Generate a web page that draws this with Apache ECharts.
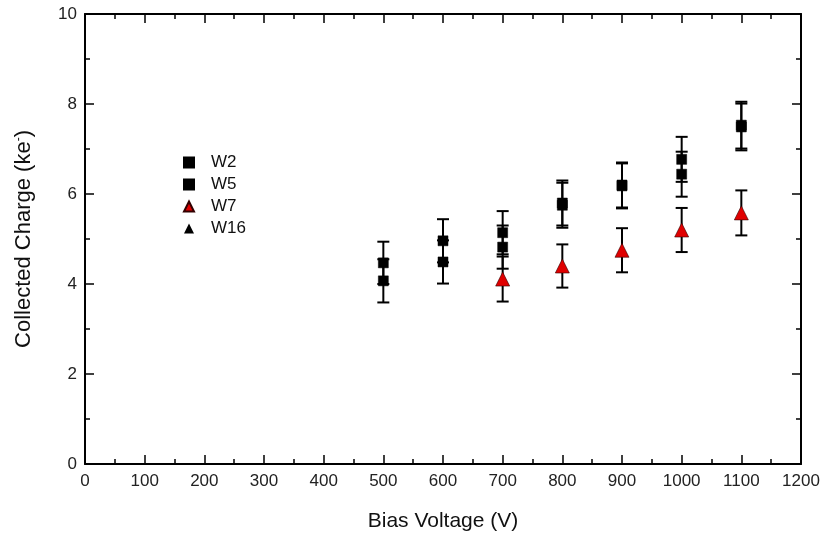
<!DOCTYPE html>
<html><head><meta charset="utf-8">
<script src="https://cdn.jsdelivr.net/npm/echarts@6/dist/echarts.min.js"></script>
<style>html,body{margin:0;padding:0;background:#fff}#c{width:827px;height:546px}</style>
</head><body><div id="c"></div>
<script>
// Data
const voltages = [500, 600, 700, 800, 900, 1000, 1100];
const w2Values = [4.47, 4.96, 5.14, 5.80, 6.20, 6.77, 7.53];
const w2Errors = [0.47, 0.48, 0.48, 0.50, 0.50, 0.50, 0.52];
const w5Values = [4.07, 4.49, 4.82, 5.75, 6.18, 6.44, 7.49];
const w5Errors = [0.48, 0.48, 0.48, 0.50, 0.50, 0.50, 0.52];
const w7Voltages = [700, 800, 900, 1000, 1100];
const w7Values = [4.11, 4.40, 4.75, 5.20, 5.58];
const w7Errors = [0.50, 0.48, 0.49, 0.49, 0.50];
const w16Values = [];
const seriesNames = ['W2', 'W5', 'W7', 'W16'];

const FONT = 'Liberation Sans, Arial, sans-serif';
const chart = echarts.init(document.getElementById('c'));

function pts(xs, ys) { return xs.map((x, i) => [x, ys[i]]); }
function errs(xs, ys, es) { return xs.map((x, i) => [x, ys[i] - es[i], ys[i] + es[i]]); }

function errorBarSeries(data) {
  return {
    type: 'custom', z: 1, silent: true,
    renderItem: function (params, api) {
      const x = api.value(0);
      const lo = api.coord([x, api.value(1)]);
      const hi = api.coord([x, api.value(2)]);
      const hw = 6;
      const st = { stroke: '#000', lineWidth: 2 };
      return { type: 'group', children: [
        { type: 'line', shape: { x1: lo[0], y1: lo[1], x2: hi[0], y2: hi[1] }, style: st },
        { type: 'line', shape: { x1: lo[0] - hw, y1: lo[1], x2: lo[0] + hw, y2: lo[1] }, style: st },
        { type: 'line', shape: { x1: hi[0] - hw, y1: hi[1], x2: hi[0] + hw, y2: hi[1] }, style: st }
      ]};
    },
    encode: { x: 0, y: [1, 2] },
    data: data
  };
}

const axisCommon = {
  axisLine: { show: true, onZero: false, lineStyle: { color: '#000', width: 2 } },
  splitLine: { show: false }
};
const tickStyle = {
  axisTick: { inside: true, length: 9, lineStyle: { color: '#000', width: 1.5 } },
  minorTick: { show: true, splitNumber: 2, length: 5, lineStyle: { color: '#000', width: 1.5 } }
};

chart.setOption({
  animation: false,
  backgroundColor: '#fff',
  grid: { left: 85, right: 26, top: 14, bottom: 82 },
  legend: {
    orient: 'vertical', left: 178, top: 149,
    itemWidth: 10, itemHeight: 10, itemGap: 5,
    data: seriesNames,
    textStyle: { fontFamily: FONT, fontSize: 17, color: '#111', lineHeight: 17, padding: [0, 0, 0, 12] }
  },
  xAxis: [
    Object.assign({
      type: 'value', min: 0, max: 1200, interval: 100, position: 'bottom',
      name: 'Bias Voltage (V)', nameLocation: 'middle', nameGap: 47,
      nameTextStyle: { fontFamily: FONT, fontSize: 21, color: '#111' },
      axisLabel: { fontFamily: FONT, fontSize: 17, color: '#222', margin: 9, formatter: v => String(v) }
    }, axisCommon, tickStyle),
    Object.assign({
      type: 'value', min: 0, max: 1200, interval: 100, position: 'top',
      axisLabel: { show: false }
    }, axisCommon, tickStyle)
  ],
  yAxis: [
    Object.assign({
      type: 'value', min: 0, max: 10, interval: 2, position: 'left',
      name: '{a|Collected Charge (ke}{s|-}{a|)}', nameLocation: 'middle', nameGap: 50,
      nameTextStyle: { rich: {
        a: { fontFamily: FONT, fontSize: 22, color: '#111' },
        s: { fontFamily: FONT, fontSize: 12, color: '#111', verticalAlign: 'top', padding: [0, 0, 10, 0] }
      } },
      axisLabel: { fontFamily: FONT, fontSize: 17, color: '#222', margin: 8, formatter: v => String(v) }
    }, axisCommon, tickStyle),
    Object.assign({
      type: 'value', min: 0, max: 10, interval: 2, position: 'right',
      axisLabel: { show: false }
    }, axisCommon, tickStyle)
  ],
  series: [
    errorBarSeries(errs(voltages, w2Values, w2Errors)),
    errorBarSeries(errs(voltages, w5Values, w5Errors)),
    errorBarSeries(errs(w7Voltages, w7Values, w7Errors)),
    { name: 'W2', type: 'scatter', z: 3, symbol: 'rect', symbolSize: 10,
      itemStyle: { color: '#000', borderColor: '#000', borderWidth: 0.5, opacity: 1 },
      data: pts(voltages, w2Values) },
    { name: 'W5', type: 'scatter', z: 3, symbol: 'rect', symbolSize: 10,
      itemStyle: { color: '#000', borderColor: '#000', borderWidth: 0.5, opacity: 1 },
      data: pts(voltages, w5Values) },
    { name: 'W7', type: 'scatter', z: 3, symbol: 'triangle', symbolSize: 14,
      itemStyle: { color: '#e00000', borderColor: '#300', borderWidth: 0.6, opacity: 1 },
      data: pts(w7Voltages, w7Values) },
    { name: 'W16', type: 'scatter', z: 3, symbol: 'triangle', symbolSize: 14,
      itemStyle: { color: '#000', opacity: 1 },
      data: w16Values }
  ]
});
</script></body></html>
